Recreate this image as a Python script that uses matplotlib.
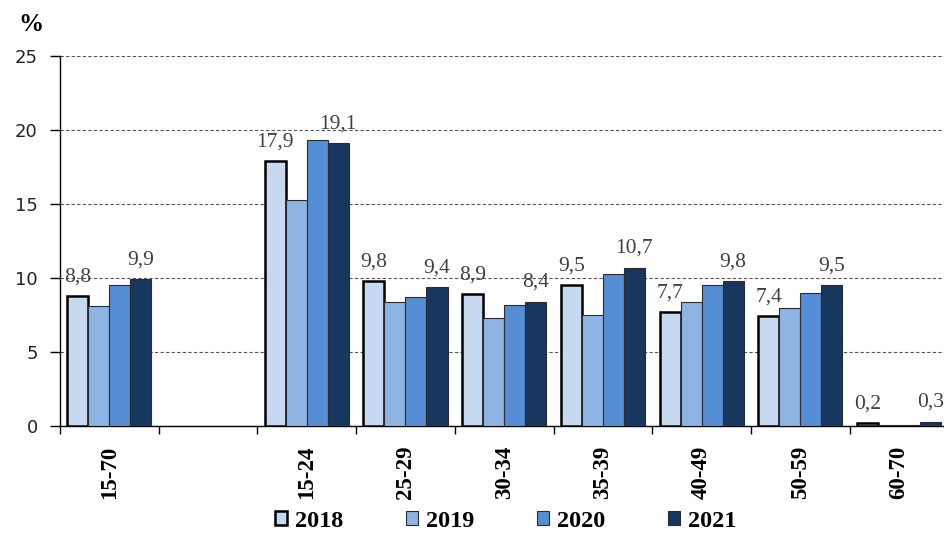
import numpy as np
import matplotlib.pyplot as plt

# age groups, the empty slot keeps the gap after the total
groups = ['15-70', '', '15-24', '25-29', '30-34', '35-39', '40-49', '50-59', '60-70']
years = ['2018', '2019', '2020', '2021']

v2018 = [8.8, np.nan, 17.9, 9.8, 8.9, 9.5, 7.7, 7.4, 0.2]
v2019 = [8.1, np.nan, 15.3, 8.4, 7.3, 7.5, 8.4, 8.0, 0.05]
v2020 = [9.5, np.nan, 19.3, 8.7, 8.2, 10.3, 9.5, 9.0, 0.05]
v2021 = [9.9, np.nan, 19.1, 9.4, 8.4, 10.7, 9.8, 9.5, 0.3]

series = [v2018, v2019, v2020, v2021]
colors = ['#C6D9F1', '#8EB4E3', '#558ED5', '#17375E']
labelled = [0, 3]  # 2018 and 2021 get value labels

fig = plt.figure(figsize=(9.45, 5.35), dpi=100)
ax = fig.add_axes([0.0635, 0.2037, 0.94, 0.6916])

x = np.arange(len(groups))
w = 0.213
for i, vals in enumerate(series):
    pos = x + (i - 1.5) * w
    if i == 0:
        ec, lw = 'black', 1.8
    else:
        ec, lw = '#2b2b2b', 0.8
    ax.bar(pos, vals, width=w, color=colors[i], edgecolor=ec, linewidth=lw,
           label=years[i], zorder=3)
    if i in labelled:
        for p, v in zip(pos, vals):
            if np.isnan(v):
                continue
            ax.annotate('{:.1f}'.format(v).replace('.', ','), (p, v),
                        xytext=(0, 7), textcoords='offset points',
                        ha='center', va='bottom', fontsize=15.5,
                        family='Liberation Serif', color='#404040', zorder=4)

ax.set_xlim(-0.5, 8.457)
ax.set_ylim(0, 25)
ax.set_yticks([0, 5, 10, 15, 20, 25])
ax.tick_params(axis='y', labelsize=13, labelcolor='#222222', length=7,
               width=1, direction='out', pad=9)
for t in ax.get_yticklabels():
    t.set_family('DejaVu Sans')
ax.yaxis.grid(True, linestyle=(0, (3, 2)), color='#555555', linewidth=0.8, zorder=0)

ax.set_xticks(x)
ax.set_xticklabels(groups, rotation=90, fontsize=16.5, fontweight='bold',
                   family='Liberation Serif')
ax.set_xticks(np.arange(-0.5, 9, 1), minor=True)
ax.tick_params(axis='x', which='major', length=0, pad=14)
ax.tick_params(axis='x', which='minor', length=6, width=1, direction='out')

for s in ['top', 'right']:
    ax.spines[s].set_visible(False)
ax.spines['left'].set_linewidth(1)
ax.spines['bottom'].set_linewidth(1)

fig.text(0.033, 0.955, '%', fontsize=18, fontweight='bold',
         family='Liberation Serif', va='center', ha='center')

leg = fig.legend(loc='center', bbox_to_anchor=(0.535, 0.026), ncol=4,
                 frameon=False, handlelength=0.5, handleheight=0.5,
                 handletextpad=0.3, columnspacing=2.6, borderpad=0,
                 prop={'family': 'Liberation Serif', 'weight': 'bold', 'size': 17.5})

fig.savefig('out.png', dpi=100)
